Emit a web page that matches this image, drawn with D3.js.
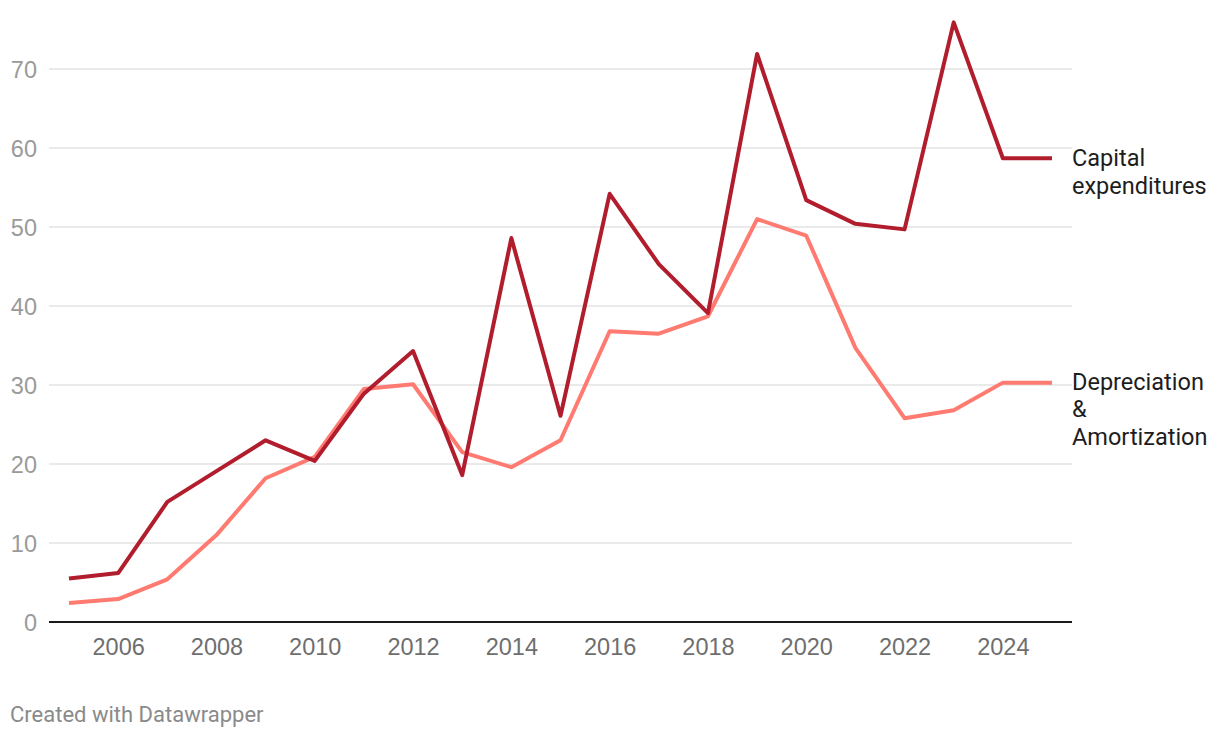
<!DOCTYPE html>
<html>
<head>
<meta charset="utf-8">
<script src="https://cdn.jsdelivr.net/npm/d3@7"></script>
<style>
  body { margin: 0; background: #fff; font-family: Roboto, "Noto Sans", sans-serif; }
  .grid line { stroke: #e3e3e3; stroke-width: 1.5; }
  .ylab text { fill: #9a9a9a; font-size: 23.5px; }
  .xlab text { fill: #6e6e6e; font-size: 23.5px; }
</style>
</head>
<body>
<script>
// years on the x axis
var years = [2005, 2006, 2007, 2008, 2009, 2010, 2011, 2012, 2013, 2014, 2015,
             2016, 2017, 2018, 2019, 2020, 2021, 2022, 2023, 2024, 2025];
var capex = [5.5, 6.2, 15.2, 19.1, 23.0, 20.4, 28.9, 34.3, 18.6, 48.6, 26.1,
             54.2, 45.3, 39.1, 71.9, 53.4, 50.4, 49.7, 75.9, 58.7, 58.7];
var deprec = [2.4, 2.9, 5.4, 11.0, 18.2, 20.9, 29.5, 30.1, 21.5, 19.6, 23.0,
              36.8, 36.5, 38.7, 51.0, 48.9, 34.7, 25.8, 26.8, 30.3, 30.3];
var yTicks = [0, 10, 20, 30, 40, 50, 60, 70];
var xTicks = [2006, 2008, 2010, 2012, 2014, 2016, 2018, 2020, 2022, 2024];
var seriesNames = [["Capital", "expenditures"], ["Depreciation", "&", "Amortization"]];
var seriesColors = ["#b11d2d", "#ff7a70"];

var width = 1220, height = 738;

var svg = d3.select("body").append("svg")
    .attr("width", width)
    .attr("height", height);

var x = d3.scaleLinear().domain([2005, 2025]).range([69, 1052]);
var y = d3.scaleLinear().domain([0, 70]).range([622, 69]);

// gridlines
svg.append("g")
    .attr("class", "grid")
    .selectAll("line")
    .data(yTicks.filter(function(d) { return d > 0; }))
   .enter().append("line")
    .attr("x1", 49).attr("x2", 1072)
    .attr("y1", function(d) { return y(d); })
    .attr("y2", function(d) { return y(d); });

// y labels
var yAxis = d3.axisLeft(y).tickValues(yTicks).tickSize(0).tickPadding(0);
svg.append("g")
    .attr("class", "ylab")
    .attr("transform", "translate(37,0)")
    .call(yAxis)
    .call(function(g) { g.select(".domain").remove(); })
    .selectAll("text")
    .attr("dy", "0.36em");

// x labels
var xAxis = d3.axisBottom(x).tickValues(xTicks).tickFormat(d3.format("d")).tickSize(0).tickPadding(0);
svg.append("g")
    .attr("class", "xlab")
    .attr("transform", "translate(0,636)")
    .call(xAxis)
    .call(function(g) { g.select(".domain").remove(); })
    .selectAll("text")
    .attr("dy", "0.8em");

// baseline
svg.append("line")
    .attr("x1", 49).attr("x2", 1072)
    .attr("y1", y(0)).attr("y2", y(0))
    .attr("stroke", "#1a1a1a")
    .attr("stroke-width", 2);

var line = d3.line()
    .x(function(d, i) { return x(years[i]); })
    .y(function(d) { return y(d); });

[deprec, capex].forEach(function(vals, k) {
  var ci = k === 0 ? 1 : 0;
  svg.append("path")
      .datum(vals)
      .attr("fill", "none")
      .attr("stroke", seriesColors[ci])
      .attr("stroke-width", 4)
      .attr("stroke-linejoin", "round")
      .attr("d", line);
});

// series labels
var labelY = [y(capex[capex.length - 1]) + 8, y(deprec[deprec.length - 1]) + 7];
seriesNames.forEach(function(lines, i) {
  svg.append("text")
      .attr("x", 1072)
      .attr("y", labelY[i])
      .style("font-size", "23.5px")
      .style("fill", "#1d1d1d")
    .selectAll("tspan")
    .data(lines)
   .enter().append("tspan")
      .attr("x", 1072)
      .attr("dy", function(d, j) { return j === 0 ? 0 : 27.5; })
      .text(String);
});

// footer
svg.append("text")
    .attr("x", 10)
    .attr("y", 722)
    .style("font-size", "22px")
    .style("fill", "#8a8a8a")
    .text("Created with Datawrapper");
</script>
</body>
</html>
